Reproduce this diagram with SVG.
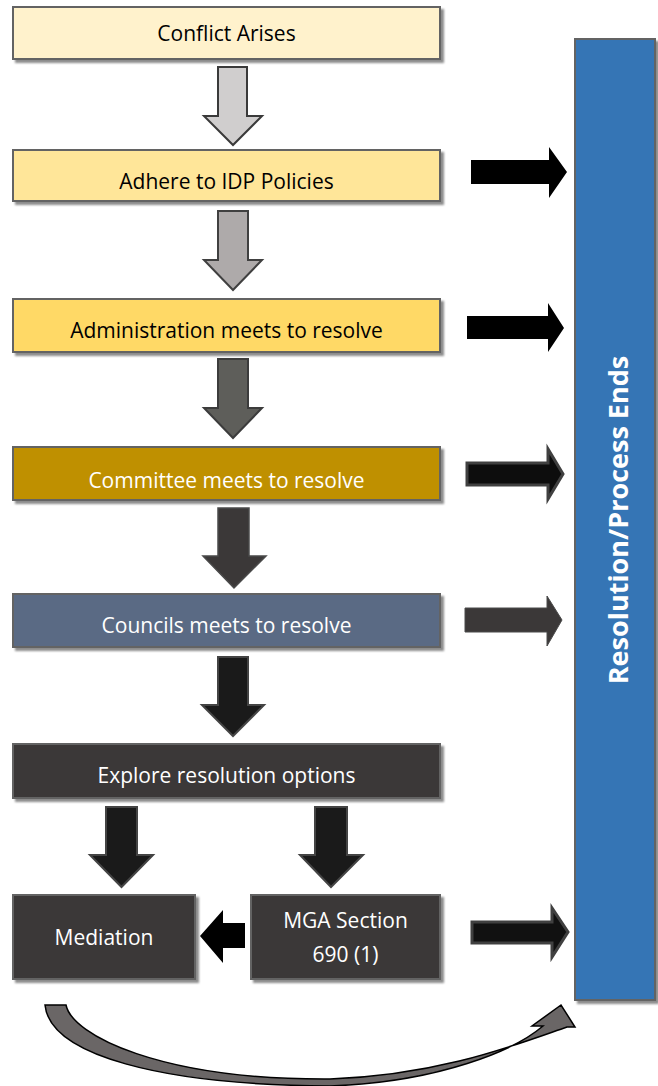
<svg xmlns="http://www.w3.org/2000/svg" width="658" height="1086" viewBox="0 0 658 1086">
<defs>
<filter id="sh" x="-10%" y="-10%" width="130%" height="140%"><feDropShadow dx="3" dy="3" stdDeviation="1" flood-color="#000" flood-opacity="0.45"/></filter>
</defs>
<style>
.box{stroke:#646464;stroke-width:2;filter:url(#sh)}
.t{font-family:"Open Sans","Liberation Sans",sans-serif;font-size:21px;text-anchor:middle}
.dk{fill:#000}
.wh{fill:#fff}
</style>
<rect width="658" height="1086" fill="#fff"/>
<g id="connectors">
<path d="M218 67H247V116H262L233 145L204 116H218Z" fill="#D0CECE" stroke="#3a3a3a" stroke-width="2"/>
<path d="M218 211H248V260H262L233 290L204 260H218Z" fill="#AEAAAA" stroke="#404040" stroke-width="2"/>
<path d="M218 359H248V408H262L233 438L204 408H218Z" fill="#5E5E5A" stroke="#3c3c3c" stroke-width="2"/>
<path d="M218 508H249V556H266L234 588L203 556H218Z" fill="#3B3838" stroke="#4a4a4a" stroke-width="1.5"/>
<path d="M218 657H248V705H264L233 736L202 705H218Z" fill="#1a1a1a" stroke="#444" stroke-width="2"/>
<path d="M106 807H137V855H153L121.5 887L90 855H106Z" fill="#1a1a1a" stroke="#444" stroke-width="2"/>
<path d="M315 807H347V855H363L331 887L300 855H315Z" fill="#1a1a1a" stroke="#444" stroke-width="2"/>
<path d="M245 923V948H223V963L200 936L223 910V923Z" fill="#000"/>
<path d="M471 160H549V147L567 172L549 198V184H471Z" fill="#000"/>
<path d="M467 316H548V303L564 328L548 352V339H467Z" fill="#000"/>
<path d="M467 463H548V449L563 474L548 499V485H467Z" fill="#0d0d0d" stroke="#404040" stroke-width="3"/>
<path d="M465 608H547V596L562 620L547 646V632H465Z" fill="#3B3838" stroke="#4a4a4a" stroke-width="1"/>
<path d="M472 922H552V908L568 932L552 957V943H472Z" fill="#111" stroke="#404040" stroke-width="3"/>
<path d="M45 1005L66 1005C72 1035 160 1080 330 1079C440 1075 515 1045 567 1027L575 1027L561 1005L532 1026L543 1026C515 1050 440 1082 330 1086C160 1085 50 1055 45 1005Z" fill="#6a6666" stroke="#000" stroke-width="1.5" stroke-linejoin="miter"/>
</g>
<g id="n-resolution">
<rect x="575" y="39" width="80" height="961" fill="#3575B5" stroke="#646464" stroke-width="2" filter="url(#sh)"/>
<text transform="translate(628,520) rotate(-90)" x="0" y="0" text-anchor="middle" font-family="'Open Sans','Liberation Sans',sans-serif" font-size="27" font-weight="bold" fill="#fff">Resolution/Process Ends</text>
</g>
<g id="n-conflict">
<rect class="box" x="13" y="7" width="427" height="52" fill="#FFF2CC"/>
<text class="t dk" x="226.5" y="40.5">Conflict Arises</text>
</g>
<g id="n-adhere">
<rect class="box" x="13" y="150" width="427" height="51" fill="#FFE699"/>
<text class="t dk" x="226.5" y="188.5">Adhere to IDP Policies</text>
</g>
<g id="n-admin">
<rect class="box" x="13" y="299" width="427" height="53" fill="#FFD966"/>
<text class="t dk" x="226.5" y="337.5">Administration meets to resolve</text>
</g>
<g id="n-committee">
<rect class="box" x="13" y="447" width="427" height="53" fill="#BF9000"/>
<text class="t wh" x="226.5" y="487.5">Committee meets to resolve</text>
</g>
<g id="n-councils">
<rect class="box" x="13" y="594" width="427" height="53" fill="#5A6A84"/>
<text class="t wh" x="226.5" y="633">Councils meets to resolve</text>
</g>
<g id="n-explore">
<rect class="box" x="13" y="744" width="427" height="54" fill="#3B3838"/>
<text class="t wh" x="226.5" y="783">Explore resolution options</text>
</g>
<g id="n-mediation">
<rect class="box" x="13" y="895" width="182" height="84" fill="#3B3838"/>
<text class="t wh" x="104" y="945">Mediation</text>
</g>
<g id="n-mga">
<rect class="box" x="251" y="895" width="189" height="84" fill="#3B3838"/>
<text class="t wh" x="345.5" y="928">MGA Section</text>
<text class="t wh" x="345.5" y="962">690 (1)</text>
</g>
</svg>
